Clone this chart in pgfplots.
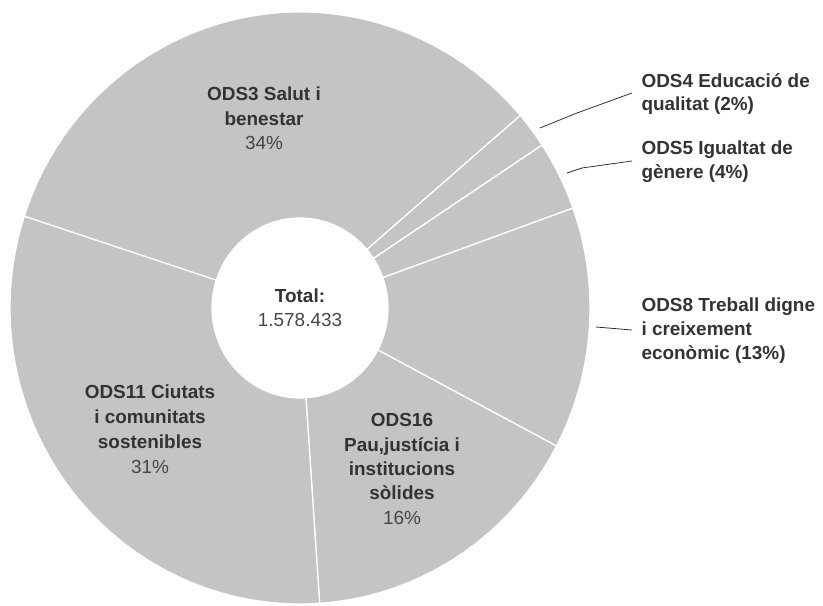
\documentclass[border=0pt]{standalone}
\usepackage{fontspec}
\setmainfont{Liberation Sans}
\usepackage{pgfplots}
\usepackage{pgfplotstable}
\pgfplotsset{compat=1.18}
\definecolor{slice}{RGB}{196,196,196}
\definecolor{txt}{RGB}{51,51,51}
\definecolor{pct}{RGB}{70,70,70}

% slice shares in percent, clockwise from ODS4
\pgfplotstableread{
name value
ODS4 2.0
ODS5 3.8
ODS8 13.2
ODS16 16.2
ODS11 31.1
ODS3 33.7
}\piedata

\begin{document}
\begin{tikzpicture}
\begin{axis}[width=823bp,height=606bp,scale only axis,
  xmin=0,xmax=823,ymin=0,ymax=606,hide axis,clip=false]
\pgfplotsextra{
  \xdef\cur{40.6}
  \foreach \i in {0,...,5}{
    \pgfplotstablegetelem{\i}{value}\of\piedata
    \pgfmathsetmacro\nxt{\cur-3.6*\pgfplotsretval}
    \filldraw[fill=slice,draw=white,line width=1.3bp]
      ([shift={(axis cs:300,298)}]\cur:290bp and 296bp)
      arc[start angle=\cur,end angle=\nxt,x radius=290bp,y radius=296bp]
      -- ([shift={(axis cs:300,298)}]\nxt:88bp and 90bp)
      arc[start angle=\nxt,end angle=\cur,x radius=88bp,y radius=90bp]
      -- cycle;
    \xdef\cur{\nxt}
  }
}
\coordinate (ll) at (axis cs:0,0);
\coordinate (ur) at (axis cs:823,606);
% leader lines
\draw[txt,line width=0.8bp] (axis cs:540,478) -- (axis cs:577,493) -- (axis cs:632,513);
\draw[txt,line width=0.8bp] (axis cs:567,433) -- (axis cs:582,438) -- (axis cs:632,445);
\draw[txt,line width=0.8bp] (axis cs:596,279) -- (axis cs:632,276);
% labels
\node[align=center,font=\fontsize{19}{24.5}\selectfont,text=txt] at (axis cs:264,487.5)
  {\textbf{ODS3 Salut i}\\\textbf{benestar}\\{\color{pct}34\%}};
\node[align=left,anchor=west,font=\fontsize{19}{24}\selectfont\bfseries,text=txt] at (axis cs:638,512)
  {ODS4 Educació de\\qualitat (2\%)};
\node[align=left,anchor=west,font=\fontsize{19}{24}\selectfont\bfseries,text=txt] at (axis cs:638,444)
  {ODS5 Igualtat de\\gènere (4\%)};
\node[align=left,anchor=west,font=\fontsize{19}{24}\selectfont\bfseries,text=txt] at (axis cs:638,275)
  {ODS8 Treball digne\\i creixement\\econòmic (13\%)};
\node[align=center,font=\fontsize{19}{24}\selectfont,text=txt] at (axis cs:300,298)
  {\textbf{Total:}\\{\color{pct}1.578.433}};
\node[align=center,font=\fontsize{19}{25}\selectfont,text=txt] at (axis cs:150,176.5)
  {\textbf{ODS11 Ciutats}\\\textbf{i comunitats}\\\textbf{sostenibles}\\{\color{pct}31\%}};
\node[align=center,font=\fontsize{19}{24.5}\selectfont,text=txt] at (axis cs:402,137)
  {\textbf{ODS16}\\\textbf{Pau,justícia i}\\\textbf{institucions}\\\textbf{sòlides}\\{\color{pct}16\%}};
\end{axis}
\pgfresetboundingbox
\path[use as bounding box] (ll) rectangle (ur);
\end{tikzpicture}
\end{document}
